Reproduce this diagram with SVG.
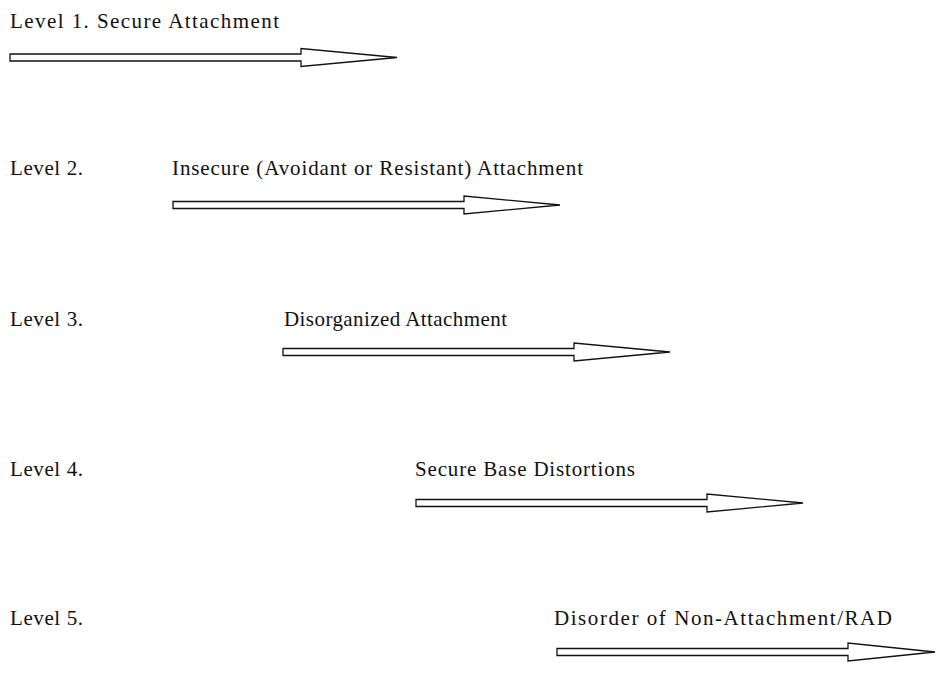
<svg xmlns="http://www.w3.org/2000/svg" xmlns:xlink="http://www.w3.org/1999/xlink" width="936" height="694" viewBox="0 0 936 694">
<style>
text{font-family:"Liberation Serif","Times New Roman",serif;font-size:21px;fill:#111}
.arr{fill:#fff;stroke:#111;stroke-width:1.3;stroke-linejoin:miter}
</style>
<defs>
<polygon id="arrow" class="arr" points="0,-3.5 291,-3.5 291,-9 387,0 291,9 291,3.5 0,3.5"/>
</defs>
<rect width="936" height="694" fill="#fff"/>
<g id="level1">
<text x="10" y="28" textLength="269" lengthAdjust="spacing">Level 1. Secure Attachment</text>
</g>
<g id="level2">
<text x="10" y="175" textLength="73" lengthAdjust="spacing">Level 2.</text>
<text x="172" y="175" textLength="411" lengthAdjust="spacing">Insecure (Avoidant or Resistant) Attachment</text>
</g>
<g id="level3">
<text x="10" y="326" textLength="73" lengthAdjust="spacing">Level 3.</text>
<text x="284" y="326" textLength="223" lengthAdjust="spacing">Disorganized Attachment</text>
</g>
<g id="level4">
<text x="10" y="476" textLength="73" lengthAdjust="spacing">Level 4.</text>
<text x="415" y="476" textLength="220" lengthAdjust="spacing">Secure Base Distortions</text>
</g>
<g id="level5">
<text x="10" y="625" textLength="73" lengthAdjust="spacing">Level 5.</text>
<text x="554" y="625" textLength="338" lengthAdjust="spacing">Disorder of Non-Attachment/RAD</text>
</g>
<g id="connectors">
<use xlink:href="#arrow" transform="translate(10,57.5)"/>
<use xlink:href="#arrow" transform="translate(173,205)"/>
<use xlink:href="#arrow" transform="translate(283,352)"/>
<use xlink:href="#arrow" transform="translate(416,503)"/>
<polygon class="arr" points="557,648.5 848,648.5 848,643 935,652 848,661 848,655.5 557,655.5"/>
</g>
</svg>
